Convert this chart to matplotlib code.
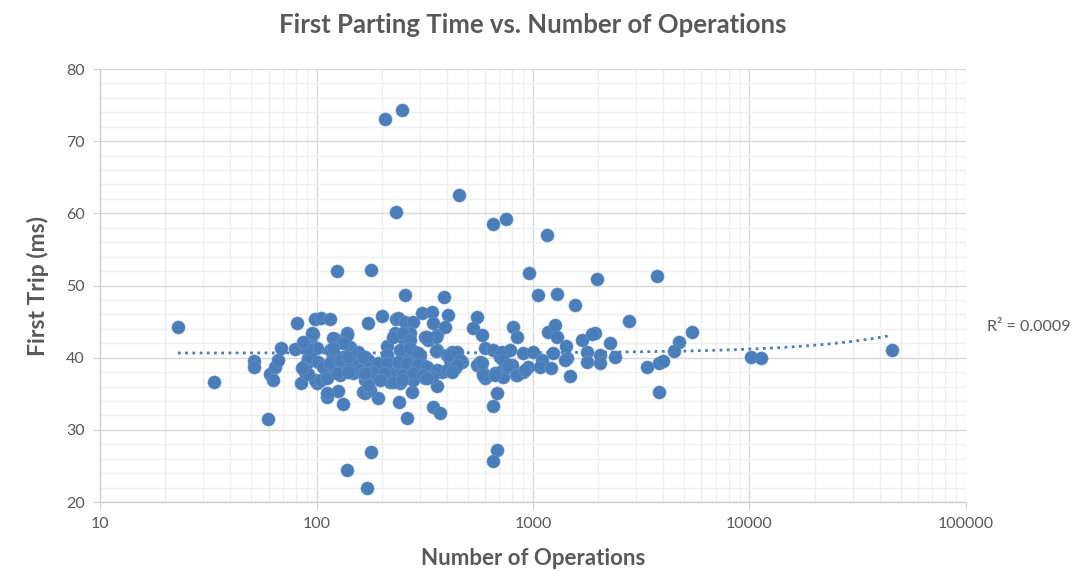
import numpy as np
import matplotlib
matplotlib.use('Agg')
import matplotlib.pyplot as plt
from matplotlib.ticker import LogLocator, FuncFormatter, MultipleLocator, NullFormatter

plt.rcParams['font.family'] = ['Lato', 'DejaVu Sans']

# number of operations (x) and first trip time in ms (y)
ops = [22.9, 33.6, 51.4, 51.4, 59.6, 61.0, 63.0, 64.3, 66.4, 68.5,
       79.5, 81.3, 84.8, 86.6, 88.5, 90.4, 91.3, 93.3, 96.4, 98.4,
       98.4, 105, 115.5, 100.5, 98.4, 91.3, 100.5, 112, 124, 125,
       132, 138.6, 138.6, 135.4, 121.8, 115.5, 124, 132, 148, 155,
       164, 167.5, 173, 179, 171, 178.5, 192, 201, 212, 212,
       233, 256, 240, 262, 276, 344, 372, 119, 118, 112,
       109.5, 105, 142.8, 132, 140, 128, 155, 159, 167.5, 167.5,
       178.5, 93.3, 95.3, 90.4, 388, 237, 256, 279, 307, 342,
       345, 405, 230.5, 251, 270, 317, 327, 360, 392, 248,
       262, 285, 301, 360, 192, 205, 218.6, 226, 243, 256,
       270, 291, 310, 327, 353, 380, 414, 427, 450, 470,
       422, 219, 243, 279, 317, 360, 177, 551, 528, 581,
       600, 653, 704, 569, 551, 587, 600, 682, 653, 682,
       653, 356, 356, 334, 427, 436, 414, 401, 581, 587,
       668, 704, 727, 759, 800, 835, 899, 948, 1055, 1291,
       1563, 808, 844, 1173, 1264, 1291, 1684, 1934, 1870, 2268,
       1420, 1237, 1436, 1405, 719, 783, 899, 1000, 727, 767,
       1100, 1077, 1211, 1776, 1776, 2039, 2039, 2392, 668, 844,
       918, 1482, 959, 1977, 3740, 2776, 5420, 4725, 4480, 3362,
       3820, 3986, 3820, 10160, 11300, 45500, 207, 248, 233, 455,
       653, 750, 1162,
       226, 251, 270, 324, 243, 270, 294, 414, 445, 460,
       172, 192, 212, 237, 262, 291, 324, 360, 401, 445,
       164, 182, 205, 251, 279, 310, 341, 422, 172, 196,
       226, 248, 324,
       86.6, 138.6, 132, 119, 85.7, 102, 107, 115.5, 128.4, 140,
       155, 164, 112, 124, 140, 167.5, 112]

trip_ms = [44.2, 36.6, 39.5, 38.7, 31.5, 37.7, 36.9, 38.7, 39.7, 41.3,
           41.2, 44.8, 36.5, 38.7, 38.0, 39.3, 39.9, 42.4, 43.3, 41.3,
           45.4, 45.5, 45.4, 36.5, 36.9, 37.8, 41.3, 34.5, 52.0, 35.4,
           33.6, 24.4, 43.4, 42.0, 42.6, 41.1, 40.1, 38.7, 37.9, 38.7,
           35.2, 40.1, 44.8, 26.9, 21.9, 52.1, 34.4, 45.8, 41.6, 40.4,
           45.4, 48.7, 33.9, 31.6, 35.2, 33.2, 32.3, 42.7, 39.7, 38.7,
           37.3, 36.9, 41.5, 40.1, 39.0, 37.6, 39.7, 38.3, 36.9, 35.1,
           38.3, 40.1, 43.4, 41.3, 48.4, 45.5, 44.9, 44.9, 46.2, 46.3,
           44.8, 45.9, 43.4, 42.7, 43.4, 42.9, 42.4, 43.1, 44.2, 41.1,
           40.1, 40.8, 40.4, 41.1, 37.3, 38.0, 38.7, 37.9, 38.7, 38.0,
           39.3, 38.7, 39.0, 37.6, 37.9, 38.0, 38.3, 39.7, 39.9, 39.4,
           40.8, 36.6, 36.5, 36.9, 37.2, 36.1, 35.5, 45.6, 44.1, 43.1,
           41.4, 41.1, 40.1, 39.4, 39.0, 37.9, 37.2, 35.1, 33.3, 27.2,
           25.7, 42.9, 40.9, 37.9, 40.1, 38.6, 39.7, 40.4, 39.3, 37.6,
           37.9, 38.0, 37.3, 38.7, 39.0, 37.6, 38.0, 38.7, 48.7, 48.8,
           47.3, 44.2, 42.9, 43.6, 44.5, 42.9, 42.4, 43.4, 43.3, 42.0,
           41.6, 40.6, 39.9, 39.7, 40.8, 41.1, 40.6, 40.8, 39.7, 39.0,
           39.7, 38.7, 38.6, 40.8, 39.4, 40.4, 39.3, 40.1, 37.6, 37.6,
           38.3, 37.5, 51.7, 50.9, 51.3, 45.1, 43.6, 42.2, 40.9, 38.7,
           39.3, 39.5, 35.2, 40.1, 40.0, 41.1, 73.1, 74.3, 60.2, 62.5,
           58.5, 59.2, 57.0,
           42.9, 43.4, 42.4, 42.9, 41.1, 41.3, 40.6, 40.4, 40.8, 39.7,
           39.7, 39.3, 39.3, 39.4, 39.3, 39.0, 38.7, 38.3, 38.3, 39.0,
           37.9, 38.0, 37.9, 37.6, 37.9, 37.6, 37.3, 38.0, 36.2, 36.9,
           36.6, 36.9, 37.2,
           42.2, 43.1, 42.0, 41.3, 38.6, 39.4, 38.7, 39.3, 39.7, 40.1,
           40.8, 40.1, 37.2, 37.9, 38.0, 37.9, 35.1]

# linear trendline as shown on the chart
trend_intercept = 40.65
trend_slope = 5.4e-5
r_squared_label = 'R² = 0.0009'

blue = '#4a7ebb'
grey_text = '#595959'

fig = plt.figure(figsize=(10.77, 5.71), dpi=100)
ax = fig.add_axes([0.0929, 0.1208, 0.8040, 0.7583])

ax.scatter(ops, trip_ms, s=90, color=blue, edgecolors='#6a95c9', linewidths=0.4, zorder=3)

xs = np.geomspace(min(ops), max(ops), 300)
ax.plot(xs, trend_intercept + trend_slope * xs, color=blue, lw=2.0,
        linestyle=(0, (1, 1.6)), zorder=4)

ax.set_xscale('log')
ax.set_xlim(10, 100000)
ax.set_ylim(20, 80)

ax.xaxis.set_major_locator(LogLocator(base=10, numticks=10))
ax.xaxis.set_minor_locator(LogLocator(base=10, subs=np.arange(2, 10), numticks=20))
ax.xaxis.set_major_formatter(FuncFormatter(lambda v, p: '%d' % v))
ax.xaxis.set_minor_formatter(NullFormatter())
ax.yaxis.set_major_locator(MultipleLocator(10))
ax.yaxis.set_minor_locator(MultipleLocator(2))

ax.grid(which='major', color='#d9d9d9', lw=1.0, zorder=0)
ax.grid(which='minor', color='#efefef', lw=1.0, zorder=0)
ax.set_axisbelow(True)

for side in ['top', 'right']:
    ax.spines[side].set_visible(False)
for side in ['left', 'bottom']:
    ax.spines[side].set_color('#d0d0d0')
    ax.spines[side].set_linewidth(1.0)

ax.tick_params(which='major', length=5, color='#d0d0d0', labelcolor=grey_text,
               labelsize=11.5, pad=6)
ax.tick_params(which='minor', length=0)

ax.set_title('First Parting Time vs. Number of Operations', fontsize=18.5,
             fontweight='bold', color=grey_text, pad=26)
ax.set_xlabel('Number of Operations', fontsize=16, fontweight='bold',
              color=grey_text, labelpad=12)
ax.set_ylabel('First Trip (ms)', fontsize=16.5, fontweight='bold',
              color=grey_text, labelpad=12)

fig.text(0.9165, 0.427, r_squared_label, fontsize=11.5, color=grey_text,
         ha='left', va='center')

fig.savefig('out.png', dpi=100)
